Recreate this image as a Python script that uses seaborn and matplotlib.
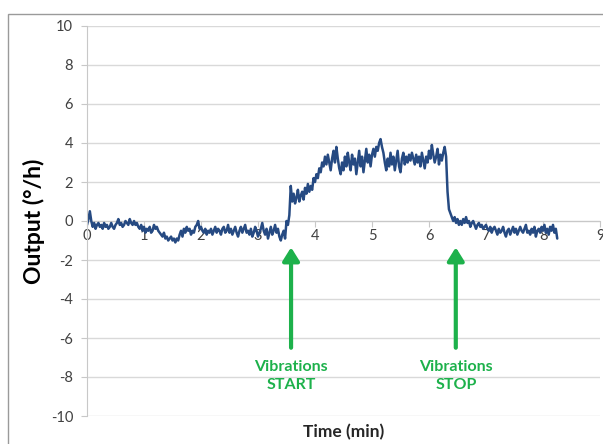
import numpy as np
import pandas as pd
import matplotlib
matplotlib.use("Agg")
import matplotlib.pyplot as plt
from matplotlib.patches import Rectangle
import seaborn as sns

# Gyro output sampled every 0.025 min (°/h)
SAMPLE_STEP = 0.025
output_min0 = [-0.2, 0.1, 0.5, 0.0, -0.3, -0.1, -0.4, -0.2, -0.1, -0.3,
               -0.2, -0.4, -0.1, -0.3, -0.2, -0.4, -0.3, -0.1, -0.3, -0.4,
               -0.2, -0.1, 0.1, -0.2, -0.1, -0.3, -0.2, 0.0, -0.1, -0.2,
               0.1, -0.1, -0.2, 0.0, -0.2, -0.1, -0.3, -0.4, -0.2, -0.5]
output_min1 = [-0.3, -0.6, -0.4, -0.5, -0.3, -0.6, -0.5, -0.2, -0.4, -0.3,
               -0.5, -0.6, -0.7, -0.8, -0.6, -0.9, -0.8, -1.0, -0.9, -0.8,
               -1.0, -0.9, -1.1, -0.9, -1.0, -0.7, -0.5, -0.8, -0.4, -0.6,
               -0.3, -0.5, -0.4, -0.7, -0.5, -0.6, -0.3, -0.2, 0.0, -0.4]
output_min2 = [-0.3, -0.5, -0.6, -0.4, -0.7, -0.5, -0.6, -0.4, -0.7, -0.5,
               -0.3, -0.6, -0.4, -0.5, -0.7, -0.4, -0.3, -0.6, -0.5, -0.2,
               -0.6, -0.4, -0.7, -0.5, -0.3, -0.6, -0.8, -0.5, -0.3, -0.6,
               -0.4, -0.2, -0.6, -0.5, -0.7, -0.4, -0.8, -0.6, -0.3, -0.5]
output_min3 = [-0.8, -0.6, -0.4, -0.1, -0.5, -0.7, -0.4, -0.9, -0.6, -0.3,
               -0.7, -0.5, -0.2, -0.6, -0.4, -0.8, -1.0, -0.7, -0.5, -0.9,
               0.0, -0.2, 0.3, 1.8, 1.0, 1.4, 0.9, 1.2, 1.6, 1.0,
               1.3, 1.5, 1.1, 1.7, 1.4, 1.9, 1.5, 1.8, 1.6, 2.2]
output_min4 = [2.0, 2.4, 2.2, 2.7, 2.5, 3.0, 2.8, 3.3, 2.9, 3.4,
               3.0, 2.6, 3.2, 3.6, 3.0, 3.8, 3.2, 2.7, 2.4, 3.0,
               2.6, 3.3, 2.8, 3.5, 3.0, 2.6, 3.4, 2.9, 3.2, 2.4,
               3.0, 3.6, 2.8, 3.3, 2.5, 3.1, 3.7, 3.0, 3.4, 2.8]
output_min5 = [3.4, 3.7, 3.3, 3.8, 3.6, 4.0, 4.2, 3.8, 3.5, 3.0,
               2.6, 3.2, 2.8, 3.5, 2.9, 3.3, 2.6, 3.1, 3.6, 2.8,
               2.5, 3.2, 3.5, 2.9, 3.3, 3.0, 3.4, 3.1, 3.5, 3.2,
               2.9, 3.4, 3.0, 3.3, 2.8, 3.5, 3.1, 2.7, 3.3, 3.0]
output_min6 = [3.6, 3.2, 3.9, 3.4, 3.0, 3.3, 3.7, 2.9, 3.4, 3.1,
               3.5, 3.8, 3.3, 1.5, 0.6, 0.4, 0.2, 0.0, 0.2, -0.1,
               0.1, -0.2, 0.0, -0.2, 0.1, -0.1, 0.2, -0.1, 0.0, -0.3,
               -0.1, 0.0, -0.2, -0.4, -0.2, -0.1, -0.3, -0.2, -0.4, -0.3]
output_min7 = [-0.2, -0.4, -0.5, -0.3, -0.6, -0.4, -0.3, -0.5, -0.7, -0.4,
               -0.6, -0.5, -0.3, -0.6, -0.8, -0.5, -0.4, -0.7, -0.5, -0.3,
               -0.6, -0.4, -0.7, -0.5, -0.3, -0.5, -0.6, -0.4, -0.2, -0.6,
               -0.5, -0.7, -0.4, -0.6, -0.3, -0.8, -0.5, -0.4, -0.6, -0.3]
output_min8 = [-0.5, -0.2, -0.6, -0.4, -0.7, -0.3, -0.5, -0.2, -0.6, -0.4, -0.9]

x_ticks = [0, 1, 2, 3, 4, 5, 6, 7, 8, 9]
y_ticks = [-10, -8, -6, -4, -2, 0, 2, 4, 6, 8, 10]

# Event markers: (time, label)
events = [(3.58, "Vibrations\nSTART"), (6.47, "Vibrations\nSTOP")]

output = (output_min0 + output_min1 + output_min2 + output_min3 + output_min4
          + output_min5 + output_min6 + output_min7 + output_min8)
time = np.arange(len(output)) * SAMPLE_STEP
df = pd.DataFrame({"Time (min)": time, "Output": output})

sns.set_style("white")
plt.rcParams["font.family"] = ["Lato", "DejaVu Sans"]

fig = plt.figure(figsize=(6.03, 4.44), dpi=100)
ax = fig.add_axes([87 / 603, 1 - 416 / 444, 513 / 603, 390 / 444])

# Outer chart frame
fig.patches.append(Rectangle((8 / 603, -0.2), 1.2, 1.2 - 14 / 444,
                             transform=fig.transFigure, fill=False,
                             edgecolor="#9a9a9a", linewidth=1.0))

sns.lineplot(data=df, x="Time (min)", y="Output", ax=ax,
             color="#264a82", linewidth=1.8)

ax.set_xlim(0, 9)
ax.set_ylim(-10, 10)
ax.set_xticks(x_ticks)
ax.set_yticks(y_ticks)
ax.set_xticklabels([str(v) for v in x_ticks])
ax.set_yticklabels([str(v) for v in y_ticks])

ax.yaxis.grid(True, color="#d9d9d9", linewidth=1.0)
ax.set_axisbelow(True)

for s in ("top", "right"):
    ax.spines[s].set_visible(False)
ax.spines["bottom"].set_position(("data", 0))
ax.spines["bottom"].set_color("#c8c8c8")
ax.spines["left"].set_color("#c8c8c8")
ax.spines["bottom"].set_zorder(1)

ax.tick_params(axis="y", which="both", left=True, length=4, width=0.8,
               color="#c8c8c8", labelsize=10.5, labelcolor="#404040", pad=6)
ax.tick_params(axis="x", which="both", bottom=True, length=4, width=0.8,
               color="#c8c8c8", labelsize=10.5, labelcolor="#404040", pad=2)

ax.set_xlabel("")
ax.set_ylabel("Output (°/h)", fontsize=16.5, fontweight="bold", color="black",
              labelpad=4)
ax.text(0.5, 1 - (432 - 26) / 390, "Time (min)", transform=ax.transAxes,
        ha="center", va="center", fontsize=12.5, fontweight="bold")

green = "#1db14b"
for t, label in events:
    ax.annotate("", xy=(t, -1.35), xytext=(t, -6.5),
                arrowprops=dict(arrowstyle="-|>,head_length=0.8,head_width=0.5",
                                color=green, linewidth=3, shrinkA=0, shrinkB=0))
    ax.text(t, -7.95, label, ha="center", va="center", color=green,
            fontsize=11.5, fontweight="bold", linespacing=1.35)

fig.savefig("out.png", dpi=100)
